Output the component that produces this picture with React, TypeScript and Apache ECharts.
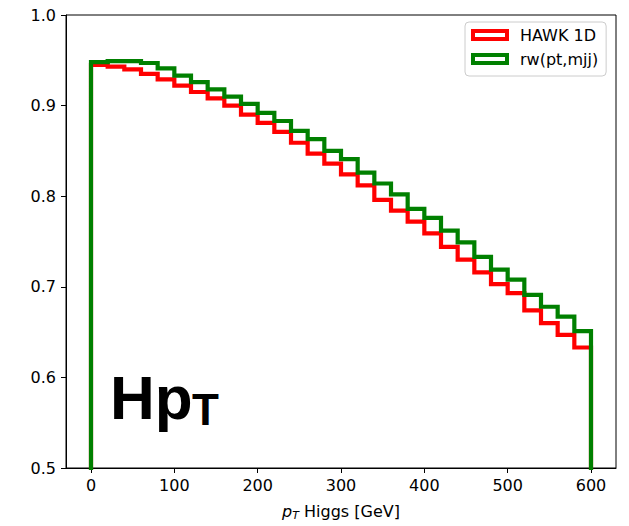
import React, { useEffect, useRef } from "react";
import * as echarts from "echarts";

// Histogram binning (bin lower edge and width, GeV)
const BIN_START = 0;
const BIN_WIDTH = 20;

// Series values per bin (30 bins, 0–600 GeV)
const hawk1D = [
  0.945, 0.943, 0.940, 0.935, 0.929, 0.922, 0.915, 0.908, 0.900, 0.890,
  0.881, 0.871, 0.859, 0.847, 0.836, 0.824, 0.812, 0.796, 0.784, 0.772,
  0.759, 0.744, 0.730, 0.716, 0.703, 0.693, 0.674, 0.660, 0.647, 0.633,
];
const rwPtMjj = [
  0.948, 0.949, 0.949, 0.947, 0.941, 0.933, 0.926, 0.918, 0.910, 0.902,
  0.892, 0.883, 0.872, 0.863, 0.850, 0.841, 0.826, 0.814, 0.802, 0.786,
  0.776, 0.762, 0.749, 0.733, 0.719, 0.708, 0.691, 0.678, 0.667, 0.651,
];

const seriesNames = ["HAWK 1D", "rw(pt,mjj)"];
const seriesColors = ["#ff0000", "#008000"];

const xTicks = [0, 100, 200, 300, 400, 500, 600];
const yTicks = [0.5, 0.6, 0.7, 0.8, 0.9, 1.0];

function stepPoints(values: number[]): number[][] {
  const pts: number[][] = [];
  const floor = 0; // histtype='step' drops to zero (clipped by the axis)
  pts.push([BIN_START, floor]);
  values.forEach((v, i) => {
    const lo = BIN_START + i * BIN_WIDTH;
    const hi = lo + BIN_WIDTH;
    pts.push([lo, v]);
    pts.push([hi, v]);
  });
  pts.push([BIN_START + values.length * BIN_WIDTH, floor]);
  return pts;
}

const FONT = "DejaVu Sans";

export default function App() {
  const ref = useRef<HTMLDivElement>(null);
  useEffect(() => {
    if (!ref.current) return;
    const chart = echarts.init(ref.current, undefined, { renderer: "svg" });
    const allSeries = [hawk1D, rwPtMjj];
    chart.setOption({
      animation: false,
      backgroundColor: "#ffffff",
      grid: {
        left: 66,
        right: 13,
        top: 15,
        bottom: 58,
        show: true,
        borderColor: "#000",
        borderWidth: 1,
        backgroundColor: "transparent",
        containLabel: false,
        outerBoundsMode: "none",
      },
      xAxis: {
        type: "value",
        min: -30,
        max: 630,
        splitLine: { show: false },
        axisLine: { show: true, onZero: false, lineStyle: { color: "#000", width: 1 } },
        axisTick: {
          show: true,
          inside: false,
          length: 5,
          customValues: xTicks,
          lineStyle: { color: "#000", width: 1 },
        },
        axisLabel: {
          customValues: xTicks,
          color: "#000",
          fontFamily: FONT,
          fontSize: 16,
          margin: 9,
        },
        name: "{it|p}{sub|T}{n| Higgs [GeV]}",
        nameLocation: "middle",
        nameGap: 33,
        nameTextStyle: {
          color: "#000",
          fontFamily: FONT,
          fontSize: 16,
          rich: {
            it: { fontStyle: "italic", fontFamily: FONT, fontSize: 16, color: "#000" },
            sub: { fontStyle: "italic", fontFamily: FONT, fontSize: 11, color: "#000", padding: [9, 0, 0, 0] },
            n: { fontFamily: FONT, fontSize: 16, color: "#000" },
          },
        },
      },
      yAxis: {
        type: "value",
        min: 0.5,
        max: 1.0,
        interval: 0.1,
        splitLine: { show: false },
        axisLine: { show: true, onZero: false, lineStyle: { color: "#000", width: 1 } },
        axisTick: {
          show: true,
          inside: false,
          length: 5,
          customValues: yTicks,
          lineStyle: { color: "#000", width: 1 },
        },
        axisLabel: {
          customValues: yTicks,
          color: "#000",
          fontFamily: FONT,
          fontSize: 16,
          margin: 10,
          formatter: (v: number) => v.toFixed(1),
        },
      },
      legend: {
        show: true,
        orient: "vertical",
        left: 465,
        top: 22,
        padding: [5, 8, 9, 6],
        itemGap: 8,
        itemWidth: 34,
        itemHeight: 8,
        borderColor: "#cccccc",
        borderWidth: 1,
        borderRadius: 4,
        backgroundColor: "rgba(255,255,255,0.8)",
        textStyle: {
          color: "#000",
          fontFamily: FONT,
          fontSize: 16,
          lineHeight: 16,
          padding: [0, 0, 0, 8],
        },
        data: seriesNames.map((n, i) => ({
          name: n,
          icon: "rect",
          itemStyle: { color: "#ffffff", borderColor: seriesColors[i], borderWidth: 4 },
        })),
      },
      series: allSeries.map((vals, i) => ({
        name: seriesNames[i],
        type: "line",
        data: stepPoints(vals),
        symbol: "none",
        clip: true,
        color: seriesColors[i],
        lineStyle: { color: seriesColors[i], width: 4.2, join: "miter", cap: "butt" },
        z: 2 + i,
      })),
      graphic: [
        {
          type: "text",
          left: 110,
          top: 366,
          style: {
            text: "Hp",
            fontSize: 62,
            fontWeight: "bold",
            fontFamily: "Liberation Sans",
            fill: "#000",
          },
          z: 10,
        },
        {
          type: "text",
          left: 192,
          top: 387,
          style: {
            text: "T",
            fontSize: 44,
            fontWeight: "bold",
            fontFamily: "Liberation Sans",
            fill: "#000",
          },
          z: 10,
        },
      ],
    });
    return () => chart.dispose();
  }, []);
  return (
    <div
      ref={ref}
      style={{ position: "fixed", left: 0, top: 0, width: 629, height: 526 }}
    />
  );
}
